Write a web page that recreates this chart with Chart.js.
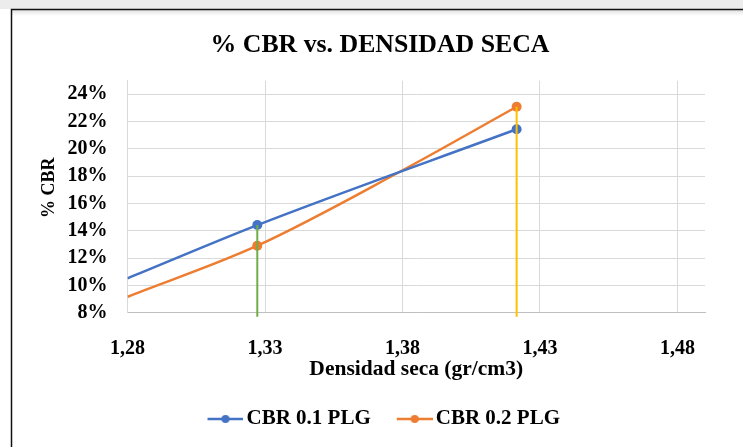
<!DOCTYPE html>
<html>
<head>
<meta charset="utf-8">
<script src="https://cdn.jsdelivr.net/npm/chart.js@4.4.0/dist/chart.umd.min.js"></script>
<style>
  html, body { margin: 0; padding: 0; background: #fff; }
  #wrap { width: 743px; height: 447px; position: relative; }
</style>
</head>
<body>
<div id="wrap"><canvas id="cbr-chart"></canvas></div>
<script>
// datos
const densidad = [1.3272, 1.4215];          // puntos medidos
const cbr01 = [14.42, 21.44];
const cbr02 = [12.91, 23.09];

// curvas de ajuste (extendidas hasta el borde izquierdo)
const curvaX01 = [1.28, 1.3272, 1.4215];
const curvaY01 = [10.52, 14.42, 21.44];
const curvaX02 = [1.28, 1.3272, 1.3797, 1.4215];
const curvaY02 = [9.17, 12.91, 18.4, 23.09];

const baseLinea = 7.7;   // las lineas verticales bajan un poco del eje

const xTicks = [1.28, 1.33, 1.38, 1.43, 1.48];
const yTicks = [8, 10, 12, 14, 16, 18, 20, 22, 24];

const azul = '#4472C4';
const naranja = '#ED7D31';
const verde = '#70AD47';
const dorado = '#FFC000';

const fuente = 'Liberation Serif, Times New Roman, serif';

function toPts(xs, ys) {
  return xs.map((x, i) => ({x: x, y: ys[i]}));
}

// icono de leyenda: linea con punto
function iconoLeyenda(color) {
  const c = document.createElement('canvas');
  c.width = 51;
  c.height = 12;
  const g = c.getContext('2d');
  g.strokeStyle = color;
  g.lineWidth = 2.5;
  g.beginPath();
  g.moveTo(15, 6);
  g.lineTo(51, 6);
  g.stroke();
  g.fillStyle = color;
  g.beginPath();
  g.arc(33, 6, 4, 0, Math.PI * 2);
  g.fill();
  return c;
}
const iconos = [iconoLeyenda(azul), iconoLeyenda(naranja)];

// marco de la captura
const marco = {
  id: 'marco',
  beforeDraw(chart) {
    const ctx = chart.ctx;
    ctx.save();
    ctx.fillStyle = '#fff';
    ctx.fillRect(0, 0, chart.width, chart.height);
    ctx.fillStyle = '#ececec';
    ctx.fillRect(0, 0, chart.width, 9);
    const grad = ctx.createLinearGradient(0, 10, 0, 16);
    grad.addColorStop(0, '#e2e2e2');
    grad.addColorStop(1, '#ffffff');
    ctx.fillStyle = grad;
    ctx.fillRect(12, 10, chart.width - 12, 6);
    ctx.strokeStyle = '#111';
    ctx.lineWidth = 1.5;
    ctx.beginPath();
    ctx.moveTo(11.5, chart.height);
    ctx.lineTo(11.5, 9.5);
    ctx.lineTo(chart.width, 9.5);
    ctx.stroke();
    ctx.restore();
  }
};

const radio = ctx => densidad.includes(ctx.raw.x) ? 5 : 0;

new Chart(document.getElementById('cbr-chart'), {
  type: 'scatter',
  data: {
    datasets: [
      {
        label: 'CBR 0.1 PLG',
        data: toPts(curvaX01, curvaY01),
        showLine: true,
        borderColor: azul,
        backgroundColor: azul,
        borderWidth: 2.5,
        pointRadius: radio,
        pointBorderWidth: 0,
        cubicInterpolationMode: 'monotone',
        order: 1
      },
      {
        label: 'CBR 0.2 PLG',
        data: toPts(curvaX02, curvaY02),
        showLine: true,
        borderColor: naranja,
        backgroundColor: naranja,
        borderWidth: 2.5,
        pointRadius: radio,
        pointBorderWidth: 0,
        cubicInterpolationMode: 'monotone',
        order: 2
      },
      {
        label: 'v1',
        data: [{x: densidad[0], y: cbr01[0]}, {x: densidad[0], y: baseLinea}],
        showLine: true,
        borderColor: verde,
        borderWidth: 2,
        pointRadius: 0,
        clip: false,
        order: 0
      },
      {
        label: 'v2',
        data: [{x: densidad[1], y: cbr02[1]}, {x: densidad[1], y: baseLinea}],
        showLine: true,
        borderColor: dorado,
        borderWidth: 2,
        pointRadius: 0,
        clip: false,
        order: 0
      }
    ]
  },
  options: {
    responsive: true,
    maintainAspectRatio: false,
    animation: false,
    layout: { padding: { left: 55, right: 38, top: 12, bottom: 7.5 } },
    plugins: {
      tooltip: { enabled: false },
      title: {
        display: true,
        text: '% CBR vs. DENSIDAD SECA',
        color: '#000',
        font: { family: fuente, size: 25.8, weight: 'bold' },
        padding: { top: 17.5, bottom: 20.2 }
      },
      legend: {
        position: 'bottom',
        labels: {
          usePointStyle: true,
          pointStyleWidth: 36,
          color: '#000',
          font: { family: fuente, size: 21, weight: 'bold' },
          padding: 18.5,
          generateLabels(chart) {
            return Chart.defaults.plugins.legend.labels.generateLabels(chart)
              .filter(l => l.datasetIndex < 2)
              .map(l => Object.assign(l, { pointStyle: iconos[l.datasetIndex] }));
          }
        }
      }
    },
    scales: {
      x: {
        type: 'linear',
        min: 1.28,
        max: 1.49,
        afterBuildTicks: s => { s.ticks = xTicks.map(v => ({value: v})); },
        afterFit: s => { s.height = 77.3; },
        ticks: {
          padding: 24,
          color: '#000',
          font: { family: fuente, size: 20, weight: 'bold' },
          callback: v => v.toFixed(2).replace('.', ',')
        },
        grid: { color: '#d9d9d9', drawTicks: false },
        border: { color: '#bfbfbf', width: 1 },
        title: {
          display: true,
          text: 'Densidad seca (gr/cm3)',
          color: '#000',
          font: { family: fuente, size: 21.5, weight: 'bold' },
          padding: { top: 0, bottom: 8 }
        }
      },
      y: {
        min: 8,
        max: 25,
        afterBuildTicks: s => { s.ticks = yTicks.map(v => ({value: v})); },
        afterFit: s => { s.width = 72.5; },
        ticks: {
          padding: 20,
          color: '#000',
          font: { family: fuente, size: 20, weight: 'bold' },
          callback: v => v + '%'
        },
        grid: { color: '#d9d9d9', drawTicks: false },
        border: { color: '#d9d9d9', width: 1 },
        title: {
          display: true,
          text: '    % CBR',
          color: '#000',
          font: { family: fuente, size: 18, weight: 'bold' },
          padding: { top: -16.8, bottom: 0 }
        }
      }
    }
  },
  plugins: [marco]
});
</script>
</body>
</html>
